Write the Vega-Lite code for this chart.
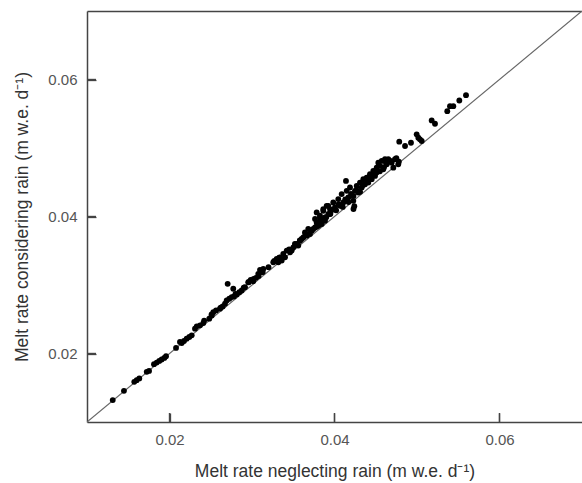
{
  "$schema": "https://vega.github.io/schema/vega-lite/v6.json",
  "width": 495,
  "height": 411,
  "autosize": "none",
  "padding": {"left": 87, "top": 11, "right": 0, "bottom": 61},
  "background": "white",
  "config": {
    "view": {"stroke": null},
    "font": "Liberation Sans",
    "axis": {
      "grid": false,
      "domainColor": "#444",
      "domainWidth": 1.5,
      "tickColor": "#444",
      "tickWidth": 1.3,
      "tickSize": -9,
      "labelFont": "Liberation Sans",
      "labelFontSize": 15,
      "labelColor": "#555",
      "titleFont": "Liberation Sans",
      "titleFontSize": 17.5,
      "titleFontWeight": "normal",
      "titleColor": "#333"
    }
  },
  "resolve": {"axis": {"x": "independent"}},
  "layer": [
    {
      "data": {"values": [{"x": 0.01, "y": 0.01}, {"x": 0.07, "y": 0.07}]},
      "mark": {"type": "line", "color": "#666", "strokeWidth": 1.2, "clip": true},
      "encoding": {
        "x": {"field": "x", "type": "quantitative", "scale": {"domain": [0.01, 0.07], "nice": false, "zero": false},
          "axis": {"values": [0.02, 0.04, 0.06], "format": ".2f", "title": "Melt rate neglecting rain (m w.e. d⁻¹)", "labelPadding": 19, "titlePadding": 15}},
        "y": {"field": "y", "type": "quantitative", "scale": {"domain": [0.01, 0.07], "nice": false, "zero": false},
          "axis": {"values": [0.02, 0.04, 0.06], "format": ".2f", "title": "Melt rate considering rain (m w.e. d⁻¹)", "labelPadding": 19, "titlePadding": 16}}
      }
    },
    {
      "data": {"values": [{"t": 0.02}, {"t": 0.04}, {"t": 0.06}]},
      "mark": {"type": "tick", "orient": "vertical", "size": 9, "thickness": 1.4, "color": "#444", "opacity": 1, "yOffset": -4.5},
      "encoding": {
        "x": {"field": "t", "type": "quantitative", "axis": null},
        "y": {"datum": 0.01}
      }
    },
    {
      "data": {"values": [{"t": 0.02}, {"t": 0.04}, {"t": 0.06}]},
      "mark": {"type": "tick", "orient": "horizontal", "size": 9, "thickness": 1.4, "color": "#444", "opacity": 1, "xOffset": 4.5},
      "encoding": {
        "y": {"field": "t", "type": "quantitative"},
        "x": {"datum": 0.01, "axis": null}
      }
    },
    {
      "data": {"values": [
        {"x": 0.01312, "y": 0.0132}, {"x": 0.01448, "y": 0.01455}, {"x": 0.01573, "y": 0.01586}, {"x": 0.01602, "y": 0.01611},
        {"x": 0.01634, "y": 0.01636}, {"x": 0.01724, "y": 0.01732}, {"x": 0.01752, "y": 0.01746}, {"x": 0.01812, "y": 0.01844},
        {"x": 0.01845, "y": 0.01868}, {"x": 0.01876, "y": 0.01892}, {"x": 0.01905, "y": 0.01912}, {"x": 0.01937, "y": 0.01935},
        {"x": 0.01958, "y": 0.0196}, {"x": 0.02079, "y": 0.02081}, {"x": 0.02127, "y": 0.02168}, {"x": 0.02148, "y": 0.02153},
        {"x": 0.02176, "y": 0.02183}, {"x": 0.02208, "y": 0.02217}, {"x": 0.0224, "y": 0.02241}, {"x": 0.02269, "y": 0.02265},
        {"x": 0.02309, "y": 0.02363}, {"x": 0.0233, "y": 0.02396}, {"x": 0.0237, "y": 0.02411}, {"x": 0.0241, "y": 0.02444},
        {"x": 0.02482, "y": 0.02508}, {"x": 0.02512, "y": 0.02556}, {"x": 0.02531, "y": 0.02604}, {"x": 0.02564, "y": 0.02629},
        {"x": 0.02612, "y": 0.02654}, {"x": 0.02645, "y": 0.02687}, {"x": 0.02673, "y": 0.02727}, {"x": 0.02693, "y": 0.02775},
        {"x": 0.02725, "y": 0.02799}, {"x": 0.02754, "y": 0.02823}, {"x": 0.02782, "y": 0.02833}, {"x": 0.02815, "y": 0.02862},
        {"x": 0.02846, "y": 0.02895}, {"x": 0.02875, "y": 0.0292}, {"x": 0.02705, "y": 0.03017}, {"x": 0.02773, "y": 0.02945},
        {"x": 0.02915, "y": 0.02968}, {"x": 0.02955, "y": 0.03041}, {"x": 0.02984, "y": 0.03076}, {"x": 0.03016, "y": 0.03055},
        {"x": 0.03048, "y": 0.03105}, {"x": 0.03076, "y": 0.03163}, {"x": 0.03097, "y": 0.03221}, {"x": 0.03118, "y": 0.03186},
        {"x": 0.03137, "y": 0.03236}, {"x": 0.03258, "y": 0.03332}, {"x": 0.03299, "y": 0.03381}, {"x": 0.03339, "y": 0.03404},
        {"x": 0.0336, "y": 0.03356}, {"x": 0.03379, "y": 0.03454}, {"x": 0.03421, "y": 0.03502}, {"x": 0.03461, "y": 0.03477},
        {"x": 0.03501, "y": 0.0355}, {"x": 0.03542, "y": 0.03599}, {"x": 0.03582, "y": 0.03647}, {"x": 0.03622, "y": 0.03695},
        {"x": 0.03642, "y": 0.03768}, {"x": 0.03682, "y": 0.03817}, {"x": 0.03724, "y": 0.03793}, {"x": 0.03764, "y": 0.03841},
        {"x": 0.03784, "y": 0.03913}, {"x": 0.03824, "y": 0.03986}, {"x": 0.03845, "y": 0.0389}, {"x": 0.03885, "y": 0.03938},
        {"x": 0.03864, "y": 0.04084}, {"x": 0.03905, "y": 0.04156}, {"x": 0.03925, "y": 0.04036}, {"x": 0.03945, "y": 0.04108},
        {"x": 0.03319, "y": 0.03332}, {"x": 0.034, "y": 0.03404}, {"x": 0.03481, "y": 0.03502}, {"x": 0.03561, "y": 0.03575},
        {"x": 0.03602, "y": 0.03672}, {"x": 0.03663, "y": 0.0372}, {"x": 0.03703, "y": 0.03745}, {"x": 0.03743, "y": 0.03817},
        {"x": 0.03804, "y": 0.03865}, {"x": 0.03764, "y": 0.03963}, {"x": 0.03784, "y": 0.04059}, {"x": 0.03824, "y": 0.04011},
        {"x": 0.03804, "y": 0.0389}, {"x": 0.03864, "y": 0.04108}, {"x": 0.03885, "y": 0.03986}, {"x": 0.03925, "y": 0.04156},
        {"x": 0.03945, "y": 0.04036}, {"x": 0.03985, "y": 0.04204}, {"x": 0.04006, "y": 0.04132}, {"x": 0.04046, "y": 0.04254},
        {"x": 0.04067, "y": 0.04156}, {"x": 0.04087, "y": 0.04327}, {"x": 0.04107, "y": 0.04204}, {"x": 0.04148, "y": 0.04375},
        {"x": 0.04167, "y": 0.04277}, {"x": 0.04188, "y": 0.04423}, {"x": 0.04208, "y": 0.04302}, {"x": 0.04228, "y": 0.04229},
        {"x": 0.04248, "y": 0.04375}, {"x": 0.04269, "y": 0.04447}, {"x": 0.04288, "y": 0.0435}, {"x": 0.04309, "y": 0.04495},
        {"x": 0.0433, "y": 0.04423}, {"x": 0.04349, "y": 0.04545}, {"x": 0.0437, "y": 0.04472}, {"x": 0.0439, "y": 0.04568},
        {"x": 0.0441, "y": 0.04495}, {"x": 0.0443, "y": 0.04617}, {"x": 0.04451, "y": 0.04545}, {"x": 0.0447, "y": 0.04665},
        {"x": 0.04491, "y": 0.04593}, {"x": 0.04511, "y": 0.04713}, {"x": 0.04551, "y": 0.04738}, {"x": 0.04572, "y": 0.04811},
        {"x": 0.04591, "y": 0.0469}, {"x": 0.04633, "y": 0.04763}, {"x": 0.04652, "y": 0.04836}, {"x": 0.04139, "y": 0.0452},
        {"x": 0.04693, "y": 0.04786}, {"x": 0.04733, "y": 0.04836}, {"x": 0.04773, "y": 0.04763}, {"x": 0.04713, "y": 0.04713},
        {"x": 0.04511, "y": 0.04641}, {"x": 0.04531, "y": 0.04786}, {"x": 0.04612, "y": 0.04836}, {"x": 0.04785, "y": 0.05092},
        {"x": 0.04855, "y": 0.05029}, {"x": 0.04927, "y": 0.05077}, {"x": 0.04996, "y": 0.05199}, {"x": 0.05016, "y": 0.0515},
        {"x": 0.05036, "y": 0.05127}, {"x": 0.05057, "y": 0.05102}, {"x": 0.05178, "y": 0.05403}, {"x": 0.05218, "y": 0.05354},
        {"x": 0.05367, "y": 0.05538}, {"x": 0.054, "y": 0.05611}, {"x": 0.0544, "y": 0.05611}, {"x": 0.05513, "y": 0.05694},
        {"x": 0.05594, "y": 0.05771},
        {"x": 0.0327, "y": 0.0335}, {"x": 0.0333, "y": 0.034}, {"x": 0.0345, "y": 0.0352}, {"x": 0.0352, "y": 0.036},
        {"x": 0.0358, "y": 0.0365}, {"x": 0.0365, "y": 0.0374}, {"x": 0.0372, "y": 0.038}, {"x": 0.0378, "y": 0.0385},
        {"x": 0.0383, "y": 0.0395}, {"x": 0.039, "y": 0.0399}, {"x": 0.0395, "y": 0.0404}, {"x": 0.0398, "y": 0.041},
        {"x": 0.0402, "y": 0.0409}, {"x": 0.0405, "y": 0.0418}, {"x": 0.041, "y": 0.0414}, {"x": 0.0413, "y": 0.0425},
        {"x": 0.0417, "y": 0.0421}, {"x": 0.042, "y": 0.0433}, {"x": 0.0423, "y": 0.043}, {"x": 0.0427, "y": 0.0438},
        {"x": 0.0431, "y": 0.0436}, {"x": 0.0435, "y": 0.0446}, {"x": 0.044, "y": 0.0452}, {"x": 0.0445, "y": 0.0458},
        {"x": 0.0449, "y": 0.0462}, {"x": 0.0455, "y": 0.0466}, {"x": 0.046, "y": 0.0472}, {"x": 0.0462, "y": 0.048},
        {"x": 0.0468, "y": 0.0481}, {"x": 0.0475, "y": 0.0485}, {"x": 0.0478, "y": 0.048},
        {"x": 0.029, "y": 0.0296}, {"x": 0.0296, "y": 0.0304}, {"x": 0.0302, "y": 0.0309}, {"x": 0.0308, "y": 0.0313},
        {"x": 0.0313, "y": 0.0319}, {"x": 0.032, "y": 0.0326}, {"x": 0.028, "y": 0.0287}, {"x": 0.0262, "y": 0.0267},
        {"x": 0.0251, "y": 0.0257}, {"x": 0.0242, "y": 0.0248}, {"x": 0.0423, "y": 0.0411}, {"x": 0.0424, "y": 0.0415}
      ]},
      "mark": {"type": "circle", "color": "black", "opacity": 1, "size": 34},
      "encoding": {
        "x": {"field": "x", "type": "quantitative",
          "axis": {"orient": "top", "labels": false, "ticks": false, "title": null}},
        "y": {"field": "y", "type": "quantitative"}
      }
    }
  ]
}
